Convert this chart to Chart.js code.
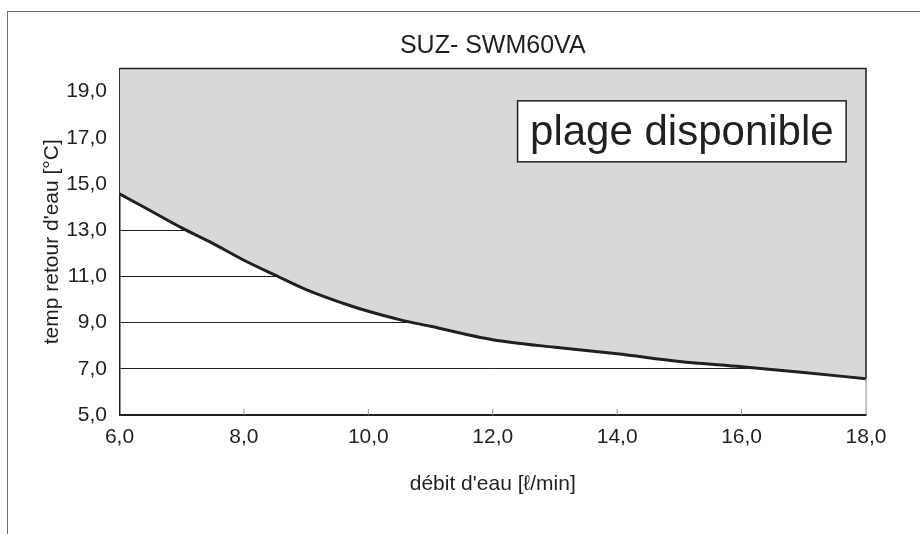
<!DOCTYPE html>
<html>
<head>
<meta charset="utf-8">
<script src="https://cdn.jsdelivr.net/npm/chart.js@4.4.1/dist/chart.umd.min.js"></script>
<style>
  body { margin: 0; background: #fff; }
  #cadre { position: absolute; left: 7px; top: 11px; width: 913px; height: 523px;
           border-top: 1px solid #6d6e70; border-left: 1px solid #6d6e70; }
  #zone { position: absolute; left: 0; top: 0; width: 920px; height: 534px; }
</style>
</head>
<body>
<div id="cadre"></div>
<div id="zone"><canvas id="graphique"></canvas></div>
<script>
// courbe limite : débit d'eau [l/min] -> temp retour d'eau [°C]
const debits     = [6, 6.5, 7, 7.5, 8, 8.5, 9, 9.7, 10, 10.5, 11, 12, 13, 14, 15, 16, 17, 18];
const tempRetour = [14.57, 13.84, 13.1, 12.43, 11.7, 11.06, 10.43, 9.74, 9.49, 9.13, 8.84, 8.26, 7.93, 7.65, 7.32, 7.09, 6.84, 6.57];

const ticksX = [6, 8, 10, 12, 14, 16, 18];
const ticksY = [5, 7, 9, 11, 13, 15, 17, 19];

const etiquette = 'plage disponible';
const posEtiquette = { x: 15.04, y: 17.28 };   // centre de la boite, en valeurs d'axe

const noir = '#231f20';
const police = "'Liberation Sans', Arial, sans-serif";

function virgule(v) {             // 6 -> "6,0"
  return Number(v).toFixed(1).replace('.', ',');
}

// bord du grand rectangle gris, petits traits de l'axe x, boite "plage disponible"
const cadreZone = {
  id: 'cadreZone',
  afterDatasetsDraw(chart) {
    const { ctx, chartArea: a, scales: { x, y } } = chart;
    const yFin = y.getPixelForValue(tempRetour[tempRetour.length - 1]);
    ctx.save();

    ctx.strokeStyle = noir;
    ctx.lineWidth = 1.5;
    ctx.beginPath();
    ctx.moveTo(a.left, a.top);
    ctx.lineTo(a.right, a.top);
    ctx.lineTo(a.right, yFin);
    ctx.stroke();

    ctx.strokeStyle = '#8a8b8d';
    ctx.lineWidth = 1;
    ctx.beginPath();
    ctx.moveTo(a.right, yFin);
    ctx.lineTo(a.right, a.bottom);
    ticksX.slice(1, -1).forEach(v => {
      const px = x.getPixelForValue(v);
      ctx.moveTo(px, a.bottom);
      ctx.lineTo(px, a.bottom - 6);
    });
    ctx.stroke();

    // boite de texte
    const cx = x.getPixelForValue(posEtiquette.x);
    const cy = y.getPixelForValue(posEtiquette.y);
    ctx.font = '42px ' + police;
    const w = ctx.measureText(etiquette).width + 25;
    const h = 61;
    ctx.fillStyle = '#fff';
    ctx.fillRect(cx - w / 2, cy - h / 2, w, h);
    ctx.strokeStyle = noir;
    ctx.lineWidth = 1.5;
    ctx.strokeRect(cx - w / 2, cy - h / 2, w, h);
    ctx.fillStyle = noir;
    ctx.textAlign = 'center';
    ctx.textBaseline = 'middle';
    ctx.fillText(etiquette, cx, cy + 2);

    ctx.restore();
  }
};

new Chart('graphique', {
  type: 'line',
  data: {
    datasets: [{
      data: debits.map((d, i) => ({ x: d, y: tempRetour[i] })),
      borderColor: noir,
      borderWidth: 3,
      backgroundColor: '#d7d8da',
      fill: 'end',
      pointRadius: 0,
      cubicInterpolationMode: 'monotone'
    }]
  },
  options: {
    responsive: true,
    maintainAspectRatio: false,
    animation: false,
    layout: { padding: { left: 0, right: 54, top: 0, bottom: 0 } },
    plugins: {
      legend: { display: false },
      tooltip: { enabled: false },
      title: {
        display: true,
        text: 'SUZ- SWM60VA',
        fullSize: false,
        color: noir,
        font: { family: police, size: 25, weight: 'normal' },
        padding: { top: 31, bottom: 7.5 }
      }
    },
    scales: {
      x: {
        type: 'linear',
        min: 6,
        max: 18,
        afterBuildTicks: s => { s.ticks = ticksX.map(v => ({ value: v })); },
        afterFit: s => { s.height = 119; },
        ticks: {
          callback: virgule,
          color: noir,
          font: { family: police, size: 21 },
          padding: 10,
          maxRotation: 0,
          autoSkip: false
        },
        grid: { drawOnChartArea: false, drawTicks: false },
        border: { color: noir, width: 1.5 },
        title: {
          display: true,
          text: "débit d'eau [ℓ/min]",
          color: noir,
          font: { family: police, size: 21 },
          padding: { top: 0, bottom: 37 }
        }
      },
      y: {
        min: 5,
        max: 20,
        afterBuildTicks: s => { s.ticks = ticksY.map(v => ({ value: v })); },
        afterFit: s => { s.width = 119.5; },
        ticks: {
          callback: virgule,
          color: noir,
          font: { family: police, size: 21 },
          padding: 12.5
        },
        grid: { color: noir, lineWidth: 1, drawTicks: false },
        border: { color: noir, width: 1.5 },
        title: {
          display: true,
          text: "temp retour d'eau [°C]",
          color: noir,
          font: { family: police, size: 21 },
          padding: { top: 40, bottom: 0 }
        }
      }
    }
  },
  plugins: [cadreZone]
});
</script>
</body>
</html>
